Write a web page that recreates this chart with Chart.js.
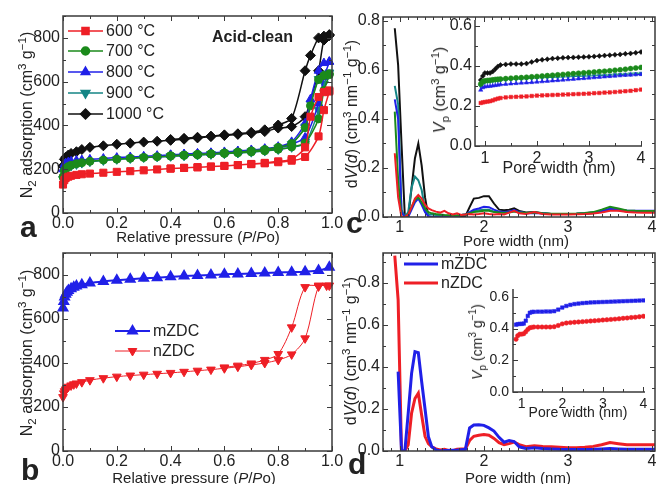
<!DOCTYPE html>
<html lang="en">
<head>
  <meta charset="UTF-8">
  <title>N2 adsorption and pore size distribution</title>
  <style>
    body { margin: 0; background: #fff; }
    #fig {
      position: relative; width: 656px; height: 484px; overflow: hidden;
      font-family: "Liberation Sans", Arial, sans-serif; color: #222;
    }
    #fig canvas { position: absolute; left: 0; top: 0; }
    .t { position: absolute; white-space: nowrap; transform: translate(-50%, -50%); font-size: 15px; line-height: 1; }
    .v { transform: translate(-50%, -50%) rotate(-90deg); font-size: 16px; }
    .s14 { font-size: 14px; }
    .t sup, .t sub { font-size: 72%; line-height: 0; }
    .lbl { position: absolute; font-weight: bold; font-size: 30px; line-height: 1; }
    .note { position: absolute; font-weight: bold; font-size: 16px; line-height: 1; }
  </style>
</head>
<body>
  <div id="fig">
    <canvas id="chartA" width="656" height="484"></canvas>
    <canvas id="chartB" width="656" height="484"></canvas>
    <canvas id="chartC" width="656" height="484"></canvas>
    <canvas id="chartCi" width="656" height="484"></canvas>
    <canvas id="chartD" width="656" height="484"></canvas>
    <canvas id="chartDi" width="656" height="484"></canvas>

    <!-- axis titles -->
    <div class="t v" style="left:27px;top:115px">N<sub>2</sub> adsorption (cm<sup>3</sup> g<sup>&minus;1</sup>)</div>
    <div class="t" style="left:198px;top:236px">Relative pressure (<i>P</i>/<i>P</i>o)</div>
    <div class="t v" style="left:27px;top:353px">N<sub>2</sub> adsorption (cm<sup>3</sup> g<sup>&minus;1</sup>)</div>
    <div class="t" style="left:194px;top:477px">Relative pressure (<i>P</i>/<i>P</i>o)</div>
    <div class="t v" style="left:352px;top:114px">d<i>V</i>(<i>d</i>) (cm<sup>3</sup> nm<sup>&minus;1</sup> g<sup>&minus;1</sup>)</div>
    <div class="t" style="left:516px;top:240px">Pore width (nm)</div>
    <div class="t v" style="left:440px;top:90px"><i>V</i><sub>p</sub> (cm<sup>3</sup> g<sup>&minus;1</sup>)</div>
    <div class="t" style="left:559px;top:168px;font-size:16px">Pore width (nm)</div>
    <div class="t v" style="left:351px;top:351px">d<i>V</i>(<i>d</i>) (cm<sup>3</sup> nm<sup>&minus;1</sup> g<sup>&minus;1</sup>)</div>
    <div class="t" style="left:518px;top:477px">Pore width (nm)</div>
    <div class="t v s14" style="left:477px;top:342px"><i>V</i><sub>p</sub> (cm<sup>3</sup> g<sup>&minus;1</sup>)</div>
    <div class="t s14" style="left:578px;top:412px">Pore width (nm)</div>

    <!-- panel letters -->
    <div class="lbl" style="left:20px;top:212px">a</div>
    <div class="lbl" style="left:21px;top:455px">b</div>
    <div class="lbl" style="left:346px;top:208px">c</div>
    <div class="lbl" style="left:348px;top:449px">d</div>
    <div class="note" style="left:212px;top:29px">Acid-clean</div>
  </div>

  <script src="https://cdn.jsdelivr.net/npm/chart.js"></script>
  <script>
    const FONT = '"Liberation Sans", Arial, sans-serif';
    const W = 656, H = 484;

    // ---------- panel a: isotherms (acid-clean, 600-1000 C) ----------
    const tempLabels = ['600 °C', '700 °C', '800 °C', '900 °C', '1000 °C'];
    const adsP = [0, 0.005, 0.01, 0.02, 0.03, 0.05, 0.07, 0.1, 0.15, 0.2, 0.25, 0.3, 0.35, 0.4, 0.45, 0.5, 0.55, 0.6, 0.65, 0.7, 0.75, 0.8, 0.85, 0.9, 0.95, 0.97, 0.99];
    const desP = [0.99, 0.97, 0.95, 0.92, 0.9, 0.85, 0.8, 0.75, 0.7, 0.65, 0.6, 0.55, 0.5, 0.45, 0.4];
    const ads600 = [130, 150, 160, 166, 170, 174, 177, 180, 184, 188, 191, 195, 199, 203, 206, 209, 212, 215, 219, 223, 227, 232, 239, 256, 350, 470, 555];
    const des600 = [560, 552, 530, 440, 300, 246, 236, 229, 224, 219, 215, 212, 209, 206, 203];
    const ads700 = [165, 192, 203, 212, 218, 225, 230, 236, 242, 246, 250, 254, 257, 260, 263, 266, 269, 272, 275, 279, 284, 291, 302, 320, 430, 560, 632];
    const des700 = [636, 628, 610, 490, 390, 318, 300, 290, 284, 279, 275, 271, 268, 265, 262];
    const ads800 = [200, 222, 228, 233, 236, 240, 242, 245, 249, 253, 256, 259, 262, 265, 268, 271, 274, 277, 281, 285, 290, 298, 315, 345, 500, 620, 690];
    const des800 = [692, 685, 650, 520, 410, 325, 303, 294, 288, 283, 279, 275, 272, 269, 266];
    const ads900 = [155, 185, 198, 208, 215, 222, 228, 234, 240, 245, 249, 253, 256, 259, 262, 265, 268, 271, 274, 278, 283, 290, 300, 318, 470, 590, 640];
    const des900 = [642, 635, 612, 500, 395, 315, 298, 288, 282, 277, 273, 269, 266, 263, 260];
    const ads1000 = [215, 245, 255, 265, 272, 280, 290, 300, 307, 314, 319, 324, 328, 332, 337, 343, 349, 354, 359, 364, 372, 388, 395, 440, 650, 790, 810];
    const des1000 = [815, 808, 800, 720, 650, 432, 402, 380, 369, 362, 357, 351, 346, 341, 336];

    // ---------- panel b: mZDC / nZDC isotherms ----------
    const zdcLabels = ['mZDC', 'nZDC'];
    const mzdcP = [0, 0.003, 0.006, 0.01, 0.015, 0.02, 0.03, 0.04, 0.05, 0.07, 0.1, 0.15, 0.2, 0.25, 0.3, 0.35, 0.4, 0.45, 0.5, 0.55, 0.6, 0.65, 0.7, 0.75, 0.8, 0.85, 0.9, 0.95, 0.99];
    const mzdcV = [650, 680, 700, 712, 722, 730, 738, 744, 750, 756, 764, 771, 776, 781, 785, 788, 792, 795, 798, 800, 803, 805, 807, 809, 811, 813, 815, 820, 835];
    const nzdcAdsP = [0, 0.003, 0.006, 0.01, 0.015, 0.02, 0.03, 0.04, 0.05, 0.07, 0.1, 0.15, 0.2, 0.25, 0.3, 0.35, 0.4, 0.45, 0.5, 0.55, 0.6, 0.65, 0.7, 0.75, 0.8, 0.85, 0.9, 0.95, 0.98];
    const nzdcAds = [245, 262, 272, 280, 287, 292, 298, 303, 307, 313, 322, 331, 338, 343, 347, 351, 355, 360, 365, 370, 376, 383, 391, 400, 414, 439, 512, 748, 752];
    const nzdcDesP = [0.99, 0.95, 0.9, 0.85, 0.8, 0.75, 0.7, 0.65, 0.6];
    const nzdcDes = [752, 752, 745, 562, 441, 414, 398, 388, 380];

    // ---------- panels c, d: pore size distribution ----------
    const poreX = [0.94, 0.98, 1.02, 1.06, 1.1, 1.14, 1.18, 1.22, 1.26, 1.3, 1.34, 1.38, 1.43, 1.48, 1.53, 1.58, 1.63, 1.68, 1.73, 1.78, 1.83, 1.88, 1.94, 2.0, 2.06, 2.12, 2.18, 2.24, 2.3, 2.36, 2.42, 2.5, 2.6, 2.7, 2.8, 2.9, 3.0, 3.1, 3.2, 3.3, 3.4, 3.5, 3.6, 3.7, 3.8, 3.9, 4.0, 4.1];
    const psd600 = [0.26, 0.08, 0, 0, 0.01, 0.04, 0.075, 0.09, 0.075, 0.05, 0.035, 0.028, 0.022, 0.018, 0.025, 0.015, 0.01, 0.015, 0.008, 0.01, 0.012, 0.01, 0.012, 0.015, 0.012, 0.01, 0.012, 0.01, 0.018, 0.025, 0.015, 0.012, 0.02, 0.012, 0.01, 0.01, 0.01, 0.011, 0.012, 0.014, 0.018, 0.025, 0.025, 0.02, 0.018, 0.017, 0.017, 0.017];
    const psd700 = [0.43, 0.15, 0, 0, 0.01, 0.04, 0.07, 0.08, 0.06, 0.035, 0.02, 0.015, 0.012, 0.01, 0.008, 0.007, 0.006, 0.006, 0.008, 0.01, 0.015, 0.02, 0.022, 0.025, 0.025, 0.02, 0.018, 0.017, 0.018, 0.022, 0.018, 0.016, 0.018, 0.015, 0.013, 0.013, 0.013, 0.014, 0.016, 0.02, 0.03, 0.042, 0.035, 0.027, 0.025, 0.024, 0.024, 0.024];
    const psd800 = [0.48, 0.40, 0.02, 0, 0, 0.03, 0.06, 0.075, 0.05, 0.02, 0.003, 0, 0, 0, 0, 0.003, 0.005, 0.005, 0.008, 0.01, 0.02, 0.03, 0.035, 0.042, 0.04, 0.03, 0.022, 0.02, 0.022, 0.028, 0.02, 0.015, 0.016, 0.014, 0.012, 0.012, 0.012, 0.013, 0.015, 0.018, 0.024, 0.033, 0.03, 0.027, 0.026, 0.026, 0.026, 0.026];
    const psd900 = [0.535, 0.46, 0.03, 0, 0.02, 0.12, 0.165, 0.15, 0.11, 0.03, 0.01, 0.01, 0.008, 0.008, 0.005, 0.005, 0.005, 0.005, 0.008, 0.01, 0.015, 0.025, 0.028, 0.03, 0.03, 0.022, 0.02, 0.018, 0.02, 0.025, 0.02, 0.015, 0.018, 0.015, 0.012, 0.012, 0.012, 0.013, 0.015, 0.018, 0.025, 0.035, 0.03, 0.025, 0.022, 0.022, 0.022, 0.022];
    const psd1000 = [0.77, 0.62, 0.3, 0, 0, 0.12, 0.24, 0.30, 0.21, 0.08, 0, 0, 0, 0, 0, 0, 0, 0, 0, 0.003, 0.04, 0.075, 0.078, 0.085, 0.085, 0.055, 0.03, 0.028, 0.03, 0.035, 0.025, 0.018, 0.02, 0.015, 0.012, 0.012, 0.012, 0.012, 0.013, 0.015, 0.022, 0.032, 0.028, 0.022, 0.02, 0.02, 0.02, 0.02];
    const psdM = [null, 0.378, 0, 0, 0.18, 0.37, 0.473, 0.468, 0.33, 0.2, 0.068, 0.02, 0.005, 0, 0.002, 0.002, 0.003, 0.004, 0.006, 0.008, 0.11, 0.124, 0.125, 0.122, 0.11, 0.095, 0.065, 0.042, 0.05, 0.045, 0.02, 0.012, 0.015, 0.012, 0.01, 0.008, 0.007, 0.007, 0.007, 0.008, 0.01, 0.012, 0.01, 0.008, 0.008, 0.008, 0.008, 0.008];
    const psdN = [0.93, 0.72, 0, 0, 0.03, 0.18, 0.25, 0.275, 0.17, 0.07, 0.035, 0.02, 0.01, 0.005, 0.008, 0.003, 0.002, 0.008, 0.01, 0.01, 0.05, 0.07, 0.075, 0.078, 0.075, 0.06, 0.04, 0.03, 0.035, 0.042, 0.03, 0.02, 0.025, 0.022, 0.02, 0.018, 0.016, 0.016, 0.018, 0.022, 0.03, 0.04, 0.035, 0.03, 0.03, 0.03, 0.03, 0.03];

    // insets: cumulative pore volume
    const cumX = [0.92, 0.96, 1.0, 1.05, 1.1, 1.15, 1.2, 1.25, 1.3, 1.4, 1.5, 1.6, 1.7, 1.8, 1.9, 2.0, 2.1, 2.2, 2.3, 2.4, 2.5, 2.6, 2.7, 2.8, 2.9, 3.0, 3.1, 3.2, 3.3, 3.4, 3.5, 3.6, 3.7, 3.8, 3.9, 4.0];
    const cum600 = [0.215, 0.218, 0.22, 0.222, 0.224, 0.228, 0.233, 0.237, 0.24, 0.243, 0.245, 0.246, 0.247, 0.248, 0.25, 0.252, 0.253, 0.254, 0.255, 0.256, 0.257, 0.258, 0.259, 0.26, 0.261, 0.262, 0.264, 0.265, 0.267, 0.268, 0.27, 0.272, 0.274, 0.276, 0.279, 0.282];
    const cum700 = [0.31, 0.322, 0.326, 0.328, 0.329, 0.331, 0.333, 0.334, 0.335, 0.337, 0.339, 0.341, 0.342, 0.344, 0.346, 0.348, 0.35, 0.352, 0.354, 0.356, 0.358, 0.36, 0.362, 0.364, 0.366, 0.368, 0.37, 0.372, 0.374, 0.376, 0.379, 0.381, 0.384, 0.387, 0.39, 0.393];
    const cum800 = [0.28, 0.292, 0.296, 0.298, 0.299, 0.301, 0.303, 0.305, 0.307, 0.309, 0.311, 0.313, 0.315, 0.316, 0.318, 0.32, 0.322, 0.324, 0.326, 0.328, 0.33, 0.332, 0.334, 0.336, 0.338, 0.34, 0.342, 0.344, 0.346, 0.348, 0.35, 0.352, 0.354, 0.355, 0.357, 0.358];
    const cum900 = [0.30, 0.315, 0.32, 0.322, 0.323, 0.325, 0.327, 0.328, 0.329, 0.331, 0.333, 0.334, 0.335, 0.336, 0.338, 0.34, 0.341, 0.342, 0.343, 0.344, 0.345, 0.346, 0.347, 0.348, 0.349, 0.35, 0.351, 0.352, 0.353, 0.354, 0.356, 0.357, 0.358, 0.36, 0.361, 0.363];
    const cum1000 = [0.33, 0.35, 0.365, 0.365, 0.365, 0.372, 0.385, 0.398, 0.405, 0.408, 0.41, 0.41, 0.41, 0.412, 0.42, 0.427, 0.431, 0.434, 0.437, 0.439, 0.441, 0.442, 0.443, 0.444, 0.445, 0.446, 0.448, 0.45, 0.452, 0.454, 0.456, 0.458, 0.461, 0.463, 0.466, 0.47];
    const cumZX = [0.86, 0.9, 0.95, 1.0, 1.05, 1.1, 1.15, 1.2, 1.25, 1.3, 1.4, 1.5, 1.6, 1.7, 1.8, 1.9, 2.0, 2.1, 2.2, 2.3, 2.4, 2.5, 2.6, 2.7, 2.8, 2.9, 3.0, 3.1, 3.2, 3.3, 3.4, 3.5, 3.6, 3.7, 3.8, 3.9, 4.0];
    const cumM = [0.425, 0.428, 0.43, 0.43, 0.432, 0.45, 0.48, 0.5, 0.505, 0.506, 0.507, 0.507, 0.508, 0.508, 0.51, 0.52, 0.533, 0.543, 0.55, 0.555, 0.558, 0.561, 0.563, 0.565, 0.566, 0.567, 0.568, 0.569, 0.57, 0.571, 0.572, 0.573, 0.574, 0.575, 0.576, 0.577, 0.578];
    const cumN = [0.333, 0.355, 0.365, 0.365, 0.368, 0.38, 0.395, 0.405, 0.408, 0.41, 0.41, 0.41, 0.41, 0.41, 0.412, 0.42, 0.43, 0.435, 0.438, 0.44, 0.442, 0.444, 0.446, 0.448, 0.45, 0.452, 0.454, 0.456, 0.458, 0.46, 0.462, 0.465, 0.467, 0.47, 0.472, 0.475, 0.478];

    // tick values
    const pTicks = [0, 0.2, 0.4, 0.6, 0.8, 1.0];
    const adsTicks = [0, 200, 400, 600, 800];
    const poreTicks = [1, 2, 3, 4];
    const psdTicks = [0, 0.2, 0.4, 0.6, 0.8];
    const cumTicks = [0, 0.2, 0.4, 0.6];

    // colours / markers
    const RED = '#ee1f26', GREEN = '#1b8a1b', BLUE = '#2020e8', TEAL = '#148585', BLACK = '#111111';
    const tempColors = [RED, GREEN, BLUE, TEAL, BLACK];
    const tempMarkers = ['rect', 'circle', 'triangle', 'triangle', 'rectRot'];
    const tempRot = [0, 0, 0, 180, 0];

    function pts(xs, ys) {
      const out = [];
      xs.forEach((x, i) => { if (ys[i] != null) out.push({ x: x, y: ys[i] }); });
      return out;
    }

    // box / inward tick marks
    const axesBox = {
      id: 'axesBox',
      afterDatasetsDraw(chart, args, o) {
        if (!o.xMinor) return;
        const { ctx, chartArea: a, scales } = chart;
        ctx.save();
        ctx.strokeStyle = '#3a3a3a';
        ctx.lineWidth = 1.5;
        ctx.beginPath();
        if (o.box) {
          ctx.rect(a.left, a.top, a.right - a.left, a.bottom - a.top);
        } else {
          ctx.moveTo(a.left, a.top); ctx.lineTo(a.left, a.bottom); ctx.lineTo(a.right, a.bottom);
        }
        ctx.stroke();
        ctx.lineWidth = 1;
        ctx.beginPath();
        const mark = (scale, v, len) => {
          const p = Math.round(scale.getPixelForValue(v)) + 0.5;
          if (scale.isHorizontal()) {
            ctx.moveTo(p, a.bottom); ctx.lineTo(p, a.bottom - len);
            if (o.box) { ctx.moveTo(p, a.top); ctx.lineTo(p, a.top + len); }
          } else {
            ctx.moveTo(a.left, p); ctx.lineTo(a.left + len, p);
            if (o.box) { ctx.moveTo(a.right, p); ctx.lineTo(a.right - len, p); }
          }
        };
        [[scales.x, o.xMinor], [scales.y, o.yMinor]].forEach(([s, step]) => {
          const n0 = Math.ceil(s.min / step - 1e-6), n1 = Math.floor(s.max / step + 1e-6);
          for (let n = n0; n <= n1; n++) mark(s, n * step, 3);
          s.ticks.forEach(t => mark(s, t.value, 5));
        });
        ctx.stroke();
        ctx.restore();
      }
    };

    // legend drawn inside the plot
    const inLegend = {
      id: 'inLegend',
      afterDraw(chart, args, o) {
        if (!o.rows) return;
        const ctx = chart.ctx;
        ctx.save();
        ctx.font = o.size + 'px ' + FONT;
        ctx.textBaseline = 'middle';
        chart.data.datasets.forEach((ds, i) => {
          const y = o.rows[i];
          ctx.strokeStyle = ds.borderColor;
          ctx.lineWidth = ds.borderWidth;
          ctx.beginPath(); ctx.moveTo(o.x0, y); ctx.lineTo(o.x1, y); ctx.stroke();
          if (ds.pointRadius > 0 && Chart.helpers && Chart.helpers.drawPoint) {
            ctx.fillStyle = ds.backgroundColor;
            ctx.strokeStyle = ds.borderColor;
            Chart.helpers.drawPoint(ctx, { pointStyle: ds.pointStyle, rotation: ds.pointRotation || 0, radius: ds.pointRadius, borderWidth: 1 }, (o.x0 + o.x1) / 2, y);
          }
          ctx.fillStyle = '#222';
          ctx.fillText(ds.label, o.x1 + 3, y + 1);
        });
        ctx.restore();
      }
    };
    Chart.register(axesBox, inLegend);

    function scaleCfg(c, dir) {
      return {
        type: 'linear', position: dir === 'x' ? 'bottom' : 'left',
        min: c.min, max: c.max,
        afterBuildTicks: s => { s.ticks = c.ticks.map(v => ({ value: v })); },
        afterFit: s => {
          if (dir === 'x') s.height = 30; else s.width = 50;
          s.paddingLeft = s.paddingRight = s.paddingTop = s.paddingBottom = 0;
        },
        grid: { display: false, drawTicks: false },
        border: { display: false },
        ticks: { color: '#222', padding: c.pad, font: { family: FONT, size: c.size }, autoSkip: false, maxRotation: 0, callback: c.fmt }
      };
    }

    function makeChart(id, area, xCfg, yCfg, datasets, box, legend) {
      const [l, t, r, b] = area;
      return new Chart(document.getElementById(id), {
        type: 'scatter',
        data: { datasets: datasets },
        options: {
          responsive: false, animation: false, events: [],
          layout: { padding: { left: l - 50, top: t, right: W - r, bottom: H - b - 30 } },
          scales: { x: scaleCfg(xCfg, 'x'), y: scaleCfg(yCfg, 'y') },
          plugins: { legend: { display: false }, tooltip: { enabled: false }, axesBox: box, inLegend: legend || {} }
        }
      });
    }

    const f1 = v => v.toFixed(1);
    const f0 = v => String(v);

    // panel a
    const adsSets = [[ads600, des600], [ads700, des700], [ads800, des800], [ads900, des900], [ads1000, des1000]];
    makeChart('chartA', [63, 16, 332, 213],
      { min: 0, max: 1, ticks: pTicks, fmt: f1, size: 16, pad: 1 },
      { min: 0, max: 900, ticks: adsTicks, fmt: f0, size: 16, pad: 3 },
      adsSets.map((s, i) => ({
        label: tempLabels[i], data: pts(adsP, s[0]).concat(pts(desP, s[1])),
        showLine: true, tension: 0.25, borderColor: tempColors[i], backgroundColor: tempColors[i],
        borderWidth: 1.5, pointStyle: tempMarkers[i], pointRotation: tempRot[i],
        pointRadius: tempMarkers[i] === 'circle' ? 4 : 5, pointBorderWidth: 1, clip: 8
      })),
      { box: true, xMinor: 0.1, yMinor: 100 },
      { rows: [31, 51, 72, 93, 114], x0: 68, x1: 103, size: 16 });

    // panel b
    makeChart('chartB', [63, 253, 332, 451],
      { min: 0, max: 1, ticks: pTicks, fmt: f1, size: 16, pad: 1 },
      { min: 0, max: 900, ticks: adsTicks, fmt: f0, size: 16, pad: 3 },
      [
        { label: zdcLabels[0], data: pts(mzdcP, mzdcV), showLine: true, tension: 0.3,
          borderColor: BLUE, backgroundColor: BLUE, borderWidth: 2, pointStyle: 'triangle', pointRadius: 5, clip: 8 },
        { label: zdcLabels[1], data: pts(nzdcAdsP, nzdcAds).concat(pts(nzdcDesP, nzdcDes)), showLine: true, tension: 0.3,
          borderColor: RED, backgroundColor: RED, borderWidth: 1, pointStyle: 'triangle', pointRotation: 180, pointRadius: 5, clip: 8 }
      ],
      { box: true, xMinor: 0.1, yMinor: 100 },
      { rows: [331, 351], x0: 115, x1: 150, size: 16 });

    // panel c
    const psdSets = [psd600, psd700, psd800, psd900, psd1000];
    makeChart('chartC', [383, 17, 655, 217],
      { min: 0.8, max: 4.035, ticks: poreTicks, fmt: f0, size: 16, pad: 1 },
      { min: 0, max: 0.816, ticks: psdTicks, fmt: f1, size: 16, pad: 3 },
      psdSets.map((s, i) => ({
        label: tempLabels[i], data: pts(poreX, s), showLine: true, tension: 0,
        borderColor: tempColors[i], borderWidth: 2, pointRadius: 0
      })),
      { box: true, xMinor: 0.1, yMinor: 0.1 });

    // inset c
    const cumSets = [cum600, cum700, cum800, cum900, cum1000];
    makeChart('chartCi', [475, 20, 642, 146],
      { min: 0.81, max: 4.02, ticks: poreTicks, fmt: f0, size: 16, pad: 3 },
      { min: 0, max: 0.63, ticks: cumTicks, fmt: f1, size: 16, pad: 3 },
      cumSets.map((s, i) => ({
        label: tempLabels[i], data: pts(cumX, s), showLine: true, tension: 0,
        borderColor: tempColors[i], backgroundColor: tempColors[i], borderWidth: 1,
        pointStyle: tempMarkers[i], pointRotation: tempRot[i], pointRadius: 2.5, pointBorderWidth: 0.5
      })),
      { box: false, xMinor: 0.5, yMinor: 0.1 });

    // panel d
    makeChart('chartD', [383, 253, 655, 451],
      { min: 0.8, max: 4.035, ticks: poreTicks, fmt: f0, size: 16, pad: 1 },
      { min: 0, max: 0.943, ticks: psdTicks, fmt: f1, size: 16, pad: 3 },
      [
        { label: zdcLabels[0], data: pts(poreX, psdM), showLine: true, tension: 0, borderColor: BLUE, borderWidth: 3, pointRadius: 0 },
        { label: zdcLabels[1], data: pts(poreX, psdN), showLine: true, tension: 0, borderColor: RED, borderWidth: 3, pointRadius: 0 }
      ],
      { box: true, xMinor: 0.1, yMinor: 0.1 },
      { rows: [264, 283], x0: 404, x1: 438, size: 16 });

    // inset d
    makeChart('chartDi', [513, 289, 645, 392],
      { min: 0.785, max: 4.04, ticks: poreTicks, fmt: f0, size: 14, pad: 4 },
      { min: 0, max: 0.65, ticks: cumTicks, fmt: f1, size: 14, pad: 4 },
      [
        { label: zdcLabels[0], data: pts(cumZX, cumM), showLine: true, tension: 0, borderColor: BLUE, backgroundColor: BLUE,
          borderWidth: 1, pointStyle: 'rect', pointRadius: 2.5, pointBorderWidth: 0.5 },
        { label: zdcLabels[1], data: pts(cumZX, cumN), showLine: true, tension: 0, borderColor: RED, backgroundColor: RED,
          borderWidth: 1, pointStyle: 'circle', pointRadius: 2.2, pointBorderWidth: 0.5 }
      ],
      { box: false, xMinor: 0.5, yMinor: 0.1 });
  </script>
</body>
</html>
